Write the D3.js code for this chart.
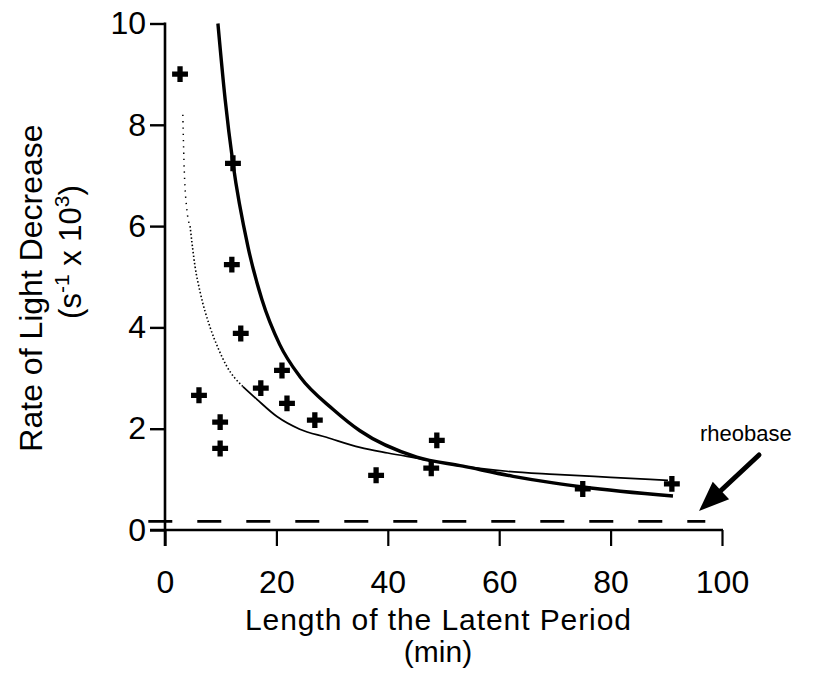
<!DOCTYPE html>
<html>
<head>
<meta charset="utf-8">
<script src="https://cdn.jsdelivr.net/npm/d3@7/dist/d3.min.js"></script>
<style>
  html, body { margin: 0; padding: 0; background: #fff; }
  svg { display: block; font-family: "Liberation Sans", Arial, Helvetica, sans-serif; }
</style>
</head>
<body>
<svg id="chart" width="820" height="690"></svg>
<script>
// Measured latent period (min) and rate of light decrease (s^-1 x 10^3)
const latentMin = [2.7, 12.2, 12.0, 13.6, 6.1, 17.2, 21.0, 21.9, 26.9, 9.9, 9.9, 37.9, 47.8, 48.8, 75.0, 91.0];
const rateObs   = [9.0, 7.24, 5.24, 3.88, 2.66, 2.80, 3.15, 2.50, 2.17, 2.13, 1.61, 1.08, 1.22, 1.77, 0.81, 0.91];

// Thick fitted curve
const fitAx = [9.5, 10.8, 12.2, 14.9, 17.4, 20.6, 24.2, 30.2, 35.0, 45.2, 53.5, 62.5, 69.7, 75.0, 91.2];
const fitAy = [10.0, 8.5, 7.24, 5.59, 4.55, 3.66, 3.03, 2.38, 1.96, 1.44, 1.26, 1.06, 0.93, 0.85, 0.67];

// Thin fitted curve: sparse dots at the top, denser dots lower, then solid
const fitBTopX = [3.2, 3.4, 3.9, 4.5];
const fitBTopY = [8.2, 7.3, 6.35, 6.0];
const fitBDotX = [4.5, 5.4, 6.3, 8.1, 9.5, 11.1, 14.0];
const fitBDotY = [6.0, 5.2, 4.7, 4.0, 3.6, 3.23, 2.83];
const fitBX = [14.0, 16.5, 20.1, 24.2, 29.0, 35.0, 40.0, 45.2, 53.5, 61.4, 70.0, 80.0, 90.3];
const fitBY = [2.83, 2.58, 2.24, 1.99, 1.83, 1.63, 1.52, 1.42, 1.26, 1.16, 1.10, 1.04, 0.98];

// Rheobase level
const rheobase = 0.17;
const rheobaseSpan = [-3, 97];

const xTicks = [0, 20, 40, 60, 80, 100];
const yTicks = [0, 2, 4, 6, 8, 10];

const svg = d3.select("#chart");
const x = d3.scaleLinear().domain([0, 100]).range([165, 722]);
const y = d3.scaleLinear().domain([0, 10]).range([530, 23.5]);

const ink = "#000";

// Axes
const xAxis = d3.axisBottom(x).tickValues(xTicks).tickSize(16).tickSizeOuter(0).tickPadding(24);
const gx = svg.append("g").attr("transform", `translate(0,${y(0)})`).call(xAxis);
gx.select(".domain").remove();
gx.selectAll(".tick line").attr("stroke", ink).attr("stroke-width", 2.2);
gx.selectAll(".tick text").attr("font-size", 32).attr("fill", ink);

const yAxis = d3.axisLeft(y).tickValues(yTicks).tickSize(15).tickSizeOuter(0).tickPadding(4);
const gy = svg.append("g").attr("transform", `translate(${x(0)},0)`).call(yAxis);
gy.select(".domain").remove();
gy.selectAll(".tick line").attr("stroke", ink).attr("stroke-width", 2.4);
gy.selectAll(".tick text").attr("font-size", 32).attr("fill", ink);

// axis lines
svg.append("line")
  .attr("x1", x(0)).attr("x2", x(0)).attr("y1", y(10) - 1).attr("y2", y(0) + 16)
  .attr("stroke", ink).attr("stroke-width", 2.6);
svg.append("line")
  .attr("x1", x(0) - 15).attr("x2", x(100) + 1).attr("y1", y(0)).attr("y2", y(0))
  .attr("stroke", ink).attr("stroke-width", 2.6);

// Rheobase dashed line
svg.append("line")
  .attr("x1", x(rheobaseSpan[0])).attr("x2", x(rheobaseSpan[1]))
  .attr("y1", y(rheobase)).attr("y2", y(rheobase))
  .attr("stroke", ink).attr("stroke-width", 2.6)
  .attr("stroke-dasharray", "24,25");

const line = d3.line().x(d => x(d[0])).y(d => y(d[1])).curve(d3.curveMonotoneX);

// Thin curve
svg.append("path")
  .datum(d3.zip(fitBTopX, fitBTopY))
  .attr("d", line).attr("fill", "none").attr("stroke", ink)
  .attr("stroke-width", 1.5).attr("stroke-dasharray", "1.3,5");
svg.append("path")
  .datum(d3.zip(fitBDotX, fitBDotY))
  .attr("d", line).attr("fill", "none").attr("stroke", ink)
  .attr("stroke-width", 1.6).attr("stroke-dasharray", "1.5,2.2");
svg.append("path")
  .datum(d3.zip(fitBX, fitBY))
  .attr("d", line).attr("fill", "none").attr("stroke", ink)
  .attr("stroke-width", 1.7);

// Thick curve
svg.append("path")
  .datum(d3.zip(fitAx, fitAy))
  .attr("d", line).attr("fill", "none").attr("stroke", ink)
  .attr("stroke-width", 3.4).attr("stroke-linejoin", "round");

// Observations as bold crosses
const cross = d3.symbol().type(d3.symbolCross).size(140);
svg.append("g").selectAll("path")
  .data(d3.zip(latentMin, rateObs))
  .join("path")
  .attr("d", cross)
  .attr("transform", d => `translate(${x(d[0])},${y(d[1])})`)
  .attr("fill", ink);

// Axis titles
svg.append("text").attr("text-anchor", "middle").attr("font-size", 30).attr("fill", ink)
  .attr("x", 438).attr("y", 630)
  .attr("textLength", 386).attr("lengthAdjust", "spacing")
  .text("Length of the Latent Period");
svg.append("text").attr("text-anchor", "middle").attr("font-size", 30).attr("fill", ink)
  .attr("x", 438).attr("y", 662)
  .text("(min)");

svg.append("text").attr("text-anchor", "middle").attr("font-size", 32).attr("fill", ink)
  .attr("transform", "translate(42,288) rotate(-90)").text("Rate of Light Decrease");
const yt2 = svg.append("text").attr("text-anchor", "middle").attr("font-size", 31).attr("fill", ink)
  .attr("transform", "translate(81,252) rotate(-90)");
yt2.append("tspan").text("(s");
yt2.append("tspan").attr("font-size", 21).attr("dy", -12).text("-1");
yt2.append("tspan").attr("dy", 12).text(" x 10");
yt2.append("tspan").attr("font-size", 21).attr("dy", -12).text("3");
yt2.append("tspan").attr("dy", 12).text(")");

// Rheobase annotation with arrow
svg.append("text").attr("x", 700).attr("y", 441).attr("font-size", 22).attr("fill", ink).text("rheobase");
const tail = [759, 455], tip = [699, 511];
const ang = Math.atan2(tip[1] - tail[1], tip[0] - tail[0]);
const headLen = 30, headHalf = 12;
const bx = tip[0] - headLen * Math.cos(ang), by = tip[1] - headLen * Math.sin(ang);
svg.append("line")
  .attr("x1", tail[0]).attr("y1", tail[1]).attr("x2", bx).attr("y2", by)
  .attr("stroke", ink).attr("stroke-width", 5).attr("stroke-linecap", "round");
svg.append("path")
  .attr("d", `M${tip[0]},${tip[1]} L${bx - headHalf * Math.sin(ang)},${by + headHalf * Math.cos(ang)} L${bx + headHalf * Math.sin(ang)},${by - headHalf * Math.cos(ang)} Z`)
  .attr("fill", ink);
</script>
</body>
</html>
